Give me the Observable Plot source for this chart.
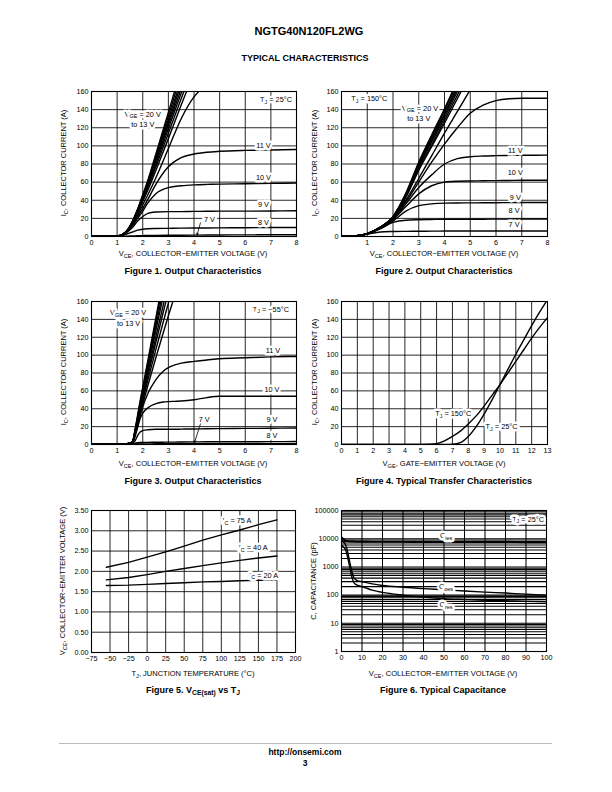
<!DOCTYPE html>
<html><head><meta charset="utf-8">
<script src="https://cdn.jsdelivr.net/npm/d3@7"></script>
<script src="https://cdn.jsdelivr.net/npm/@observablehq/plot@0.6"></script>
<style>
body{margin:0;background:#fff;}
#page{position:relative;width:612px;height:792px;font-family:"Liberation Sans",Arial,Helvetica,sans-serif;color:#000;overflow:hidden;background:#fff;}
.abs{position:absolute;white-space:nowrap;line-height:1;}
.abs sub{font-size:0.75em;vertical-align:-0.3em;line-height:0;}
</style></head><body><div id="page"></div>
<script>
// ---------- Data ----------
// Figure 1 (TJ = 25°C): VCE grid and IC per VGE
const fig1Vce = [0,0.5,1,1.2,1.4,1.6,1.8,2,2.2,2.5,3,3.5,4,4.5,5,6,7,8];
const fig1V20 = [0,0,0.5,2,7,17,30,46,62,90,137,185];
const fig1V19 = [0,0,0.5,2,7,17,30,45,61,88,133,179];
const fig1V18 = [0,0,0.5,2,7,16,29,44,60,86,129,173];
const fig1V17 = [0,0,0.5,2,7,16,29,44,59,84,126,168];
const fig1V16 = [0,0,0.5,2,7,16,28,43,58,82,123,163];
const fig1V15 = [0,0,0.5,2,6,15,27,42,56,79,119,158,197];
const fig1V14 = [0,0,0.5,2,6,15,27,41,54,76,114,152,190];
const fig1V13 = [0,0,0.5,2,6,14,26,39,51,72,108,145,181];
const fig1V12 = [0,0,0.5,2,6,14,24,35,46,64,97,130,154,168];
const fig1V11 = [0,0,0.5,2,6,13,22,31,41,57,77,87,91,93,94,95,95.5,96];
const fig1V10 = [0,0,0.5,2,6,12,20,28,37,47,54,56,57,57.5,57.8,58.2,58.6,59];
const fig1V9  = [0,0,0.5,1.5,5,10,17,22,25.5,27,27.5,27.5,27.7,27.8,28,28,28.2,28.5];
const fig1V8  = [0,0,0.3,1,3,5,7,8,8.5,8.8,9,9.2,9.3,9.4,9.5,9.7,9.9,10];
const fig1V7  = [0,0,0,0.2,0.4,0.6,0.8,1,1.1,1.2,1.3,1.4,1.5,1.6,1.7,1.8,1.9,2];

// Figure 2 (TJ = 150°C)
const fig2Vce = [0,0.5,1,1.5,2,2.5,3,3.5,4,4.5,5,5.5,6,6.5,7,8];
const fig2V20 = [0,0.5,3,10,22,48,82,112,141,172];
const fig2V19 = [0,0.5,3,10,22,47,81,110,139,169];
const fig2V18 = [0,0.5,3,10,22,46,79,108,136,166];
const fig2V17 = [0,0.5,3,10,22,46,78,106,134,163];
const fig2V16 = [0,0.5,3,10,21,45,77,104,131,160,188];
const fig2V15 = [0,0.5,3,10,21,44,75,101,128,156,184];
const fig2V14 = [0,0.5,3,10,21,43,73,99,125,152,180];
const fig2V13 = [0,0.5,3,10,21,40,64,89,114,138,162];
const fig2V12 = [0,0.5,3,9.5,20,38,60,82,102,120,136,145,150,152,152.5,152.5];
const fig2V11 = [0,0.5,3,9.5,19,36,54,68,80,86,88,88.8,89.2,89.5,89.6,89.8];
const fig2V10 = [0,0.5,3,9,18.5,33,47,56,60,61,61.3,61.5,61.7,61.8,62,62];
const fig2V9  = [0,0.5,3,9,17,28,34,36,36.8,37,37.1,37.2,37.3,37.4,37.5,37.5];
const fig2V8  = [0,0.5,3,8.5,15.5,18,18.5,18.8,19,19,19,19.1,19.2,19.2,19.3,19.3];
const fig2V7  = [0,0.5,2.5,5,5.5,5.7,5.8,5.9,6,6,6,6,6,6,6,6];

// Figure 3 (TJ = -55°C)
const fig3Vce = [0,0.9,1.2,1.5,1.6,1.7,1.8,1.9,2,2.2,2.5,2.8,3,3.25,3.5,4,4.5,5,6,7,8];
const fig3V20 = [0,0,0.5,1.5,3,17,33,49,64,94,140,186];
const fig3V19 = [0,0,0.5,1.5,3,16,31,47,62,91,136,180];
const fig3V18 = [0,0,0.5,1.5,3,15,30,45,60,88,131,173];
const fig3V17 = [0,0,0.5,1.5,3,15,29,44,58,85,126,166];
const fig3V16 = [0,0,0.5,1.5,3,14,28,42,55,81,119,156,180];
const fig3V15 = [0,0,0.5,1.5,3,14,27,40,52,77,113,148,171];
const fig3V14 = [0,0,0.5,1.5,3,13,25,37,49,72,105,137,158,182];
const fig3V13 = [0,0,0.5,1.5,3,12,23,34,45,66,96,125,144,167];
const fig3V11 = [0,0,0.5,1.5,2,10,21,32,42,57,72,82,86,89,91,93,94.5,96,97,98,98.5];
const fig3V10 = [0,0,0.5,1.5,2,9,19,29,35,41,45.5,47.5,48,48.3,48.6,50,52.5,54,54,54,54];
const fig3V9  = [0,0,0.5,1,1.5,4,10,14,15.5,16.5,17,17,17,17,17.2,17.4,17.6,17.8,18,18.2,18.5];
const fig3V8  = [0,0,0.3,0.8,1.2,1.6,2,2.2,2.3,2.4,2.5,2.6,2.7,2.7,2.8,2.9,3,3,3.1,3.2,3.3];
const fig3V7  = [0,0,0.2,0.4,0.5,0.6,0.6,0.7,0.7,0.7,0.8,0.8,0.8,0.8,0.9,0.9,0.9,1,1,1,1];

// Figure 4 transfer characteristics
const fig4Vge  = [0,1,2,3,4,5,5.5,6,6.5,7,7.5,8,8.5,9,9.5,10,10.5,11,11.5,12,12.5,13];
const fig4T150 = [0,0,0,0,0,0,0.3,1,4,9,15,23,32,43,55,67,80,93,106,119,131,142];
const fig4T25  = [0,0,0,0,0,0,0,0,0,0.3,2,9,20,34,50,67,84,101,117,133,148,162];

// Figure 5 VCE(sat) vs TJ
const fig5Tj   = [-55,-25,0,25,50,75,100,125,150,175];
const fig5Ic75 = [2.10,2.22,2.35,2.48,2.62,2.77,2.90,3.02,3.15,3.27];
const fig5Ic40 = [1.79,1.85,1.92,2.00,2.07,2.14,2.21,2.27,2.33,2.38];
const fig5Ic20 = [1.65,1.66,1.68,1.70,1.72,1.74,1.75,1.77,1.78,1.79];

// Figure 6 capacitance
const fig6Vce  = [0,1,2,3,4,5,6,7,8,10,15,20,30,40,50,60,70,80,90,100];
const fig6Cies = [11000,9500,8500,8200,8100,8000,8000,7900,7900,7900,7800,7800,7800,7700,7700,7700,7700,7700,7600,7600];
const fig6Coes = [9000,7500,6000,3500,1500,700,420,350,320,300,250,220,190,170,155,140,128,118,108,100];
const fig6Cres = [6000,5000,4000,2200,1000,450,280,240,220,200,150,125,100,85,75,70,66,63,60,58];

// Tick labels
const ticks0to8 = [0,1,2,3,4,5,6,7,8];
const ticks1to8 = [1,2,3,4,5,6,7,8];
const ticksIc = [0,20,40,60,80,100,120,140,160];
const ticksVge = [0,1,2,3,4,5,6,7,8,9,10,11,12,13];
const ticksTj = [-75,-50,-25,0,25,50,75,100,125,150,175,200];
const ticksVsat = [0,0.5,1,1.5,2,2.5,3,3.5];
const ticksVce100 = [0,10,20,30,40,50,60,70,80,90,100];
const ticksCap = [1,10,100,1000,10000,100000];

// ---------- Helpers ----------
const FONT = '"Liberation Sans", Arial, Helvetica, sans-serif';
const page = document.getElementById("page");

function html(h, cx, cy, o = {}) {
  const d = document.createElement("div");
  d.className = "abs";
  d.innerHTML = h;
  d.style.left = cx + "px";
  d.style.top = cy + "px";
  d.style.fontSize = (o.size || 7.5) + "px";
  if (o.bold) d.style.fontWeight = "bold";
  d.style.transform = "translate(-50%,-50%)" + (o.rotate ? " rotate(-90deg)" : "");
  page.appendChild(d);
}

function table(xs, series) {
  const out = [];
  for (const [name, ys] of Object.entries(series)) {
    ys.forEach((y, i) => { if (y != null && i < xs.length) out.push({x: xs[i], y, s: name}); });
  }
  return out;
}

function subify(svg) {
  svg.querySelectorAll("text").forEach(t => {
    const s = t.textContent;
    if (!s.includes("_{")) return;
    t.textContent = "";
    const re = /_\{([^}]*)\}/g;
    let last = 0, m, shifted = false;
    const add = (str, sub) => {
      const ts = document.createElementNS("http://www.w3.org/2000/svg", "tspan");
      ts.textContent = str;
      if (sub) { ts.setAttribute("font-size", "5.5"); ts.setAttribute("dy", "1.6"); shifted = true; }
      else if (shifted) { ts.setAttribute("dy", "-1.6"); shifted = false; }
      t.appendChild(ts);
    };
    while ((m = re.exec(s))) {
      if (m.index > last) add(s.slice(last, m.index), false);
      add(m[1], true);
      last = re.lastIndex;
    }
    if (last < s.length) add(s.slice(last), false);
  });
}

const note = (t, x, y, anchor = "middle") =>
  Plot.text([t], {x: () => x, y: () => y, text: d => d, fill: "black", stroke: "white", strokeWidth: 5, fontSize: 7.3, textAnchor: anchor});
const arrow = (x1, y1, x2, y2) =>
  Plot.arrow([0], {x1: () => x1, y1: () => y1, x2: () => x2, y2: () => y2, stroke: "black", strokeWidth: 0.8, headLength: 4, insetEnd: 0});
const curves = (data, extra = {}) =>
  Plot.line(data, {x: "x", y: "y", z: "s", stroke: "black", strokeWidth: 1.4, curve: "monotone-x", clip: true, ...extra});

function chart(frame, xo, yo, marks, gridW = 0.85) {
  const [l, t, r, b] = frame;
  const ml = 34, mt = 8, mr = 8, mb = 14;
  const svg = Plot.plot({
    width: r - l + ml + mr, height: b - t + mt + mb,
    marginLeft: ml, marginTop: mt, marginRight: mr, marginBottom: mb,
    style: {fontFamily: FONT, fontSize: "7.2px", background: "transparent", color: "black", overflow: "visible"},
    x: {domain: xo.domain, type: xo.type || "linear"},
    y: {domain: yo.domain, type: yo.type || "linear"},
    marks: [
      Plot.gridX(xo.grid, {stroke: "black", strokeOpacity: 1, strokeWidth: gridW}),
      Plot.gridY(yo.grid, {stroke: "black", strokeOpacity: 1, strokeWidth: gridW}),
      ...marks,
      Plot.frame({stroke: "black", strokeWidth: 1.1}),
      Plot.axisX(xo.ticks, {tickSize: 0, tickPadding: 3, label: null, tickFormat: xo.format, fontSize: 7.2}),
      Plot.axisY(yo.ticks, {tickSize: 0, tickPadding: 3, label: null, tickFormat: yo.format, fontSize: 7.2})
    ]
  });
  svg.style.position = "absolute";
  svg.style.left = (l - ml) + "px";
  svg.style.top = (t - mt) + "px";
  subify(svg);
  page.appendChild(svg);
}

// ---------- Page text ----------
html("NGTG40N120FL2WG", 309, 31, {size: 11, bold: true});
html("TYPICAL CHARACTERISTICS", 305, 58, {size: 9, bold: true});

const icGrid = [20,40,60,80,100,120,140];
const icY = {domain: [0, 160], ticks: ticksIc, grid: icGrid};

// ---------- Figure 1 ----------
chart([91, 91, 296, 236],
  {domain: [0, 8], ticks: ticks0to8, grid: [1,2,3,4,5,6,7]}, icY,
  [
    curves(table(fig1Vce, {v20: fig1V20, v19: fig1V19, v18: fig1V18, v17: fig1V17, v16: fig1V16, v15: fig1V15, v14: fig1V14, v13: fig1V13, v12: fig1V12, v11: fig1V11, v10: fig1V10, v9: fig1V9, v8: fig1V8, v7: fig1V7})),
    note("T_{J} = 25°C", 7.2, 151),
    note("V_{GE} = 20 V", 2.0, 135),
    note("to 13 V", 2.0, 123.5),
    note("11 V", 6.71, 100),
    note("10 V", 6.71, 65),
    note("9 V", 6.71, 35),
    note("8 V", 6.71, 15),
    note("7 V", 4.6, 19),
    arrow(4.25, 15, 4.12, 1.5)
  ]);
html("I<sub>C</sub>, COLLECTOR CURRENT (A)", 64, 163, {rotate: true});
html("V<sub>CE</sub>, COLLECTOR−EMITTER VOLTAGE (V)", 193, 254);
html("Figure 1. Output Characteristics", 193, 271, {size: 9, bold: true});

// ---------- Figure 2 ----------
chart([341, 91, 547, 236],
  {domain: [0, 8], ticks: ticks1to8, grid: [1,2,3,4,5,6,7]}, icY,
  [
    curves(table(fig2Vce, {v20: fig2V20, v19: fig2V19, v18: fig2V18, v17: fig2V17, v16: fig2V16, v15: fig2V15, v14: fig2V14, v13: fig2V13, v12: fig2V12, v11: fig2V11, v10: fig2V10, v9: fig2V9, v8: fig2V8, v7: fig2V7})),
    note("T_{J} = 150°C", 1.08, 152),
    note("V_{GE} = 20 V", 3.05, 141.5),
    note("to 13 V", 3.0, 130),
    note("11 V", 6.75, 95),
    note("10 V", 6.75, 70),
    note("9 V", 6.75, 43),
    note("8 V", 6.7, 28),
    note("7 V", 6.7, 13)
  ]);
html("I<sub>C</sub>, COLLECTOR CURRENT (A)", 315, 163, {rotate: true});
html("V<sub>CE</sub>, COLLECTOR−EMITTER VOLTAGE (V)", 444, 254);
html("Figure 2. Output Characteristics", 444, 271, {size: 9, bold: true});

// ---------- Figure 3 ----------
chart([91, 301, 296, 444],
  {domain: [0, 8], ticks: ticks0to8, grid: [1,2,3,4,5,6,7]}, icY,
  [
    curves(table(fig3Vce, {v20: fig3V20, v19: fig3V19, v18: fig3V18, v17: fig3V17, v16: fig3V16, v15: fig3V15, v14: fig3V14, v13: fig3V13, v11: fig3V11, v10: fig3V10, v9: fig3V9, v8: fig3V8, v7: fig3V7})),
    note("V_{GE} = 20 V", 1.43, 147),
    note("to 13 V", 1.45, 135),
    note("T_{J} = −55°C", 7.0, 151),
    note("11 V", 7.08, 105),
    note("10 V", 7.04, 61),
    note("9 V", 7.04, 28),
    note("8 V", 7.04, 10),
    note("7 V", 4.4, 28),
    arrow(4.25, 23, 4.02, 2)
  ]);
html("I<sub>C</sub>, COLLECTOR CURRENT (A)", 64, 372, {rotate: true});
html("V<sub>CE</sub>, COLLECTOR−EMITTER VOLTAGE (V)", 193, 464);
html("Figure 3. Output Characteristics", 193, 481, {size: 9, bold: true});

// ---------- Figure 4 ----------
chart([341, 301, 547, 444],
  {domain: [0, 13], ticks: ticksVge, grid: [1,2,3,4,5,6,7,8,9,10,11,12]}, icY,
  [
    curves(table(fig4Vge, {t150: fig4T150, t25: fig4T25})),
    note("T_{J} = 150°C", 7.05, 34),
    note("T_{J} = 25°C", 10.1, 20)
  ]);
html("I<sub>C</sub>, COLLECTOR CURRENT (A)", 315, 372, {rotate: true});
html("V<sub>GE</sub>, GATE−EMITTER VOLTAGE (V)", 444, 464);
html("Figure 4. Typical Transfer Characteristics", 444, 481, {size: 9, bold: true});

// ---------- Figure 5 ----------
chart([91, 510, 295, 652],
  {domain: [-75, 200], ticks: ticksTj, grid: [-50,-25,0,25,50,75,100,125,150,175]},
  {domain: [0, 3.5], ticks: ticksVsat, grid: [0.5,1,1.5,2,2.5,3], format: d => d.toFixed(2)},
  [
    curves(table(fig5Tj, {ic75: fig5Ic75, ic40: fig5Ic40, ic20: fig5Ic20}), {curve: "linear"}),
    note("I_{C} = 75 A", 121, 3.24),
    note("I_{C} = 40 A", 143, 2.58),
    note("I_{C} = 20 A", 157, 1.90)
  ]);
html("V<sub>CE</sub>, COLLECTOR−EMITTER VOLTAGE (V)", 63, 581, {rotate: true});
html("T<sub>J</sub>, JUNCTION TEMPERATURE (°C)", 193, 674);
html("Figure 5. V<sub>CE(sat)</sub> vs T<sub>J</sub>", 193, 690, {size: 9, bold: true});

// ---------- Figure 6 ----------
const capGrid = d3.scaleLog().domain([1, 100000]).ticks().filter(v => v > 1 && v < 100000);
chart([341, 510, 546, 651],
  {domain: [0, 100], ticks: ticksVce100, grid: [10,20,30,40,50,60,70,80,90]},
  {domain: [1, 100000], type: "log", ticks: ticksCap, grid: capGrid, format: d => String(d)},
  [
    curves(table(fig6Vce, {cies: fig6Cies}), {strokeWidth: 2.2}),
    curves(table(fig6Vce, {coes: fig6Coes, cres: fig6Cres})),
    note("T_{J} = 25°C", 91, 48000),
    note("C_{ies}", 51, 12500),
    note("C_{oes}", 51, 200),
    note("C_{res}", 51, 45)
  ], 1.05);
html("C, CAPACITANCE (pF)", 314, 581, {rotate: true});
html("V<sub>CE</sub>, COLLECTOR−EMITTER VOLTAGE (V)", 443, 674);
html("Figure 6. Typical Capacitance", 443, 690, {size: 9, bold: true});

// ---------- Footer ----------
const rule = document.createElement("div");
rule.style.cssText = "position:absolute;left:59px;top:743px;width:493px;height:0;border-top:1.5px solid #bbb;";
page.appendChild(rule);
html("http://onsemi.com", 305, 752, {size: 8.5, bold: true});
html("3", 305, 763, {size: 8.5, bold: true});
</script></body></html>
